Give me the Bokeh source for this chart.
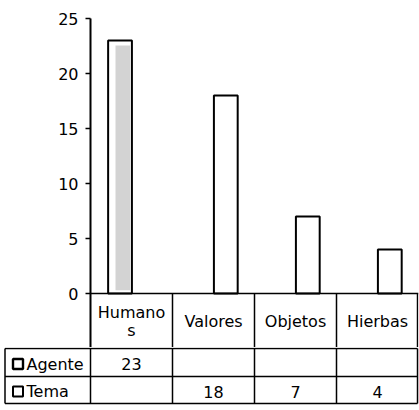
from bokeh.plotting import figure
from bokeh.models import FactorRange, Range1d, ColumnDataSource, FixedTicker
from bokeh.layouts import column
from bokeh.transform import dodge
from bokeh.core.properties import value
from bokeh.embed import file_html
from bokeh.resources import INLINE

# ---- data ----
categories = ["Humanos", "Valores", "Objetos", "Hierbas"]
header_labels = ["Humano\ns", "Valores", "Objetos", "Hierbas"]
series_names = ["Agente", "Tema"]
agente = [23, None, None, None]
tema = [None, 18, 7, 4]
y_ticks = [0, 5, 10, 15, 20, 25]

# ---- styling / layout constants ----
FONT = "DejaVu Sans"
FS = "16px"
COL_PX = 82          # width of one category column in px
LEFT_PX = 90         # width of the row-label column in px
Y_PX = 11            # px per y unit
HEAD_PX = 54         # header row height in px
BAR_W = 0.29
OFF_A = -0.14
OFF_T = 0.15
n = len(categories)
head_u = HEAD_PX / Y_PX

# ================= bar chart + header row =================
top = figure(x_range=FactorRange(*categories), y_range=Range1d(-head_u, 25),
             frame_width=n * COL_PX, frame_height=25 * Y_PX + HEAD_PX,
             min_border_left=LEFT_PX, min_border_right=1,
             min_border_top=18, min_border_bottom=0,
             output_backend="svg", toolbar_location=None)
top.frame_align = False
top.xaxis.visible = False
top.xgrid.grid_line_color = None
top.ygrid.grid_line_color = None
top.outline_line_color = None
top.background_fill_color = "white"
top.border_fill_color = "white"

ya = top.yaxis[0]
ya.ticker = FixedTicker(ticks=y_ticks, minor_ticks=[])
ya.bounds = (-head_u, 25)
ya.major_tick_out = 5
ya.major_tick_in = 0
ya.minor_tick_out = 0
ya.minor_tick_in = 0
ya.axis_line_width = 2
ya.axis_line_color = "black"
ya.major_tick_line_width = 1.5
ya.major_tick_line_color = "black"
ya.major_label_text_font = FONT
ya.major_label_text_font_size = FS
ya.major_label_text_color = "black"
ya.major_label_standoff = 7

a_cats = [c for c, v in zip(categories, agente) if v is not None]
a_vals = [v for v in agente if v is not None]
t_cats = [c for c, v in zip(categories, tema) if v is not None]
t_vals = [v for v in tema if v is not None]

src_a = ColumnDataSource(dict(cat=a_cats, val=a_vals,
                              inner_top=[v - 0.45 for v in a_vals],
                              inner_bot=[0.3 for _ in a_vals]))
src_t = ColumnDataSource(dict(cat=t_cats, val=t_vals))

top.vbar(x=dodge("cat", OFF_A, range=top.x_range), top="val", bottom=0,
         width=BAR_W, source=src_a, fill_color="white",
         line_color="black", line_width=2)
top.vbar(x=dodge("cat", OFF_A + 0.035, range=top.x_range), top="inner_top",
         bottom="inner_bot", width=0.18, source=src_a,
         fill_color="#d3d3d3", line_color=None)
top.vbar(x=dodge("cat", OFF_T, range=top.x_range), top="val", bottom=0,
         width=BAR_W, source=src_t, fill_color="white",
         line_color="black", line_width=2)

# header row: top line (x axis line), vertical separators
right_edge = n - 0.012
top.segment(x0=[0], y0=[0], x1=[n], y1=[0], line_color="black", line_width=1.5)
hvx = [i for i in range(1, n)] + [right_edge]
top.segment(x0=hvx, y0=[0] * n, x1=hvx, y1=[-head_u] * n,
            line_color="black", line_width=1.5)

hx, hyy, ht = [], [], []
for i, lab in enumerate(header_labels):
    parts = lab.split("\n")
    k = len(parts)
    for j, part in enumerate(parts):
        hx.append(i + 0.5)
        hyy.append(-(HEAD_PX / 2 + 0.5 + (j - (k - 1) / 2) * 18) / Y_PX)
        ht.append(part)
top.text(x=hx, y=hyy, text=ht, text_font=value(FONT), text_font_size=FS,
         text_align="center", text_baseline="middle", text_color="black")

# ================= data rows =================
TW = LEFT_PX + n * COL_PX + 1
ROW_H = 58
bot = figure(x_range=Range1d(-LEFT_PX / COL_PX, (TW - LEFT_PX) / COL_PX),
             y_range=Range1d(ROW_H, 0),
             frame_width=TW, frame_height=ROW_H, min_border=0,
             x_axis_type=None, y_axis_type=None,
             output_backend="svg", toolbar_location=None)
bot.frame_align = False
bot.xgrid.grid_line_color = None
bot.ygrid.grid_line_color = None
bot.outline_line_color = None
bot.background_fill_color = "white"
bot.border_fill_color = "white"

left_x = -(LEFT_PX - 4.5) / COL_PX
Y_R0, Y_R1, Y_R2 = 1, 29, 56
hy = [Y_R0, Y_R1, Y_R2]
bot.segment(x0=[left_x] * 3, y0=hy, x1=[right_edge] * 3, y1=hy,
            line_color="black", line_width=1.5)
vx = [left_x] + [i for i in range(n)] + [right_edge]
bot.segment(x0=vx, y0=[Y_R0] * len(vx), x1=vx, y1=[Y_R2] * len(vx),
            line_color="black", line_width=1.5)

row_y = [(Y_R0 + Y_R1) / 2 + 1.5, (Y_R1 + Y_R2) / 2 + 1.5]
bot.text(x=[-(LEFT_PX - 26) / COL_PX] * 2, y=row_y, text=series_names,
         text_font=value(FONT), text_font_size=FS, text_align="left",
         text_baseline="middle", text_color="black")
bot.scatter(x=[-(LEFT_PX - 17.5) / COL_PX] * 2, y=row_y, marker="square",
            size=10, fill_color="white", line_color="black",
            line_width=[2.4, 2.0])

vx_, vy_, vt_ = [], [], []
for r, series in enumerate([agente, tema]):
    for i, v in enumerate(series):
        if v is not None:
            vx_.append(i + 0.5)
            vy_.append(row_y[r])
            vt_.append(str(v))
bot.text(x=vx_, y=vy_, text=vt_, text_font=value(FONT), text_font_size=FS,
         text_align="center", text_baseline="middle", text_color="black")

layout = column(top, bot)
open("out.html", "w").write(file_html(layout, INLINE))
